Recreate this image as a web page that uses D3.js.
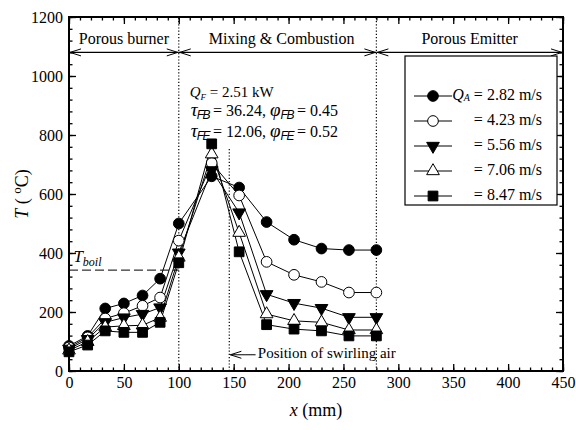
<!DOCTYPE html>
<html>
<head>
<meta charset="utf-8">
<script src="https://cdn.jsdelivr.net/npm/d3@7"></script>
<style>
  body { margin: 0; background: white; }
  svg { font-family: 'Liberation Serif', 'Times New Roman', serif; }
</style>
</head>
<body>
<div id="chart"></div>
<script>
// x positions of thermocouples (mm)
const xPos = [0, 17, 33, 50, 67, 83, 100, 130, 155, 180, 205, 230, 255, 280]
// temperatures for each air velocity
const t282 = [85, 119, 212, 229, 256, 313, 500, 660, 622, 505, 445, 415, 410, 410]
const t423 = [80, 114, 178, 196, 221, 249, 442, 705, 595, 370, 326, 302, 266, 266]
const t556 = [75, 108, 165, 181, 193, 215, 401, 680, 537, 260, 230, 213, 182, 182]
const t706 = [70, 99, 149, 153, 155, 181, 385, 735, 469, 193, 170, 165, 139, 139]
const t847 = [65, 88, 136, 131, 131, 165, 367, 770, 404, 157, 142, 136, 119, 119]
const seriesLabels = ['2.82', '4.23', '5.56', '7.06', '8.47']
const xTicks = [0, 50, 100, 150, 200, 250, 300, 350, 400, 450]
const yTicks = [0, 200, 400, 600, 800, 1000, 1200]
const zones = [['Porous burner', 0, 100], ['Mixing & Combustion', 100, 280], ['Porous Emitter', 280, 450]]

const width = 576, height = 430
const padL = 69, padR = 563, padT = 17, padB = 371

const svg = d3.select('#chart').append('svg')
	.attr('width', width)
	.attr('height', height)

const x = d3.scaleLinear().domain([0, 450]).range([padL, padR])
const y = d3.scaleLinear().domain([0, 1200]).range([padB, padT])

// axes, ticks pointing inward on all four sides
function styleAxis(g) {
	g.select('.domain').remove()
	g.selectAll('line').style('stroke', 'black').style('stroke-width', 1.3)
	g.selectAll('text').style('font-size', '16px').style('font-family', 'Liberation Serif').style('fill', 'black')
}
const fmt = d3.format('d')
svg.append('g').attr('transform', 'translate(0,' + padB + ')')
	.call(d3.axisBottom(x).tickValues(xTicks).tickSize(-7).tickPadding(6).tickFormat(fmt)).call(styleAxis)
svg.append('g').attr('transform', 'translate(0,' + padB + ')')
	.call(d3.axisBottom(x).tickValues(d3.range(0, 451, 10)).tickSize(-3.5).tickFormat('')).call(styleAxis)
svg.append('g').attr('transform', 'translate(0,' + padT + ')')
	.call(d3.axisTop(x).tickValues(xTicks).tickSize(-7).tickFormat('')).call(styleAxis)
svg.append('g').attr('transform', 'translate(0,' + padT + ')')
	.call(d3.axisTop(x).tickValues(d3.range(0, 451, 10)).tickSize(-3.5).tickFormat('')).call(styleAxis)
svg.append('g').attr('transform', 'translate(' + padL + ',0)')
	.call(d3.axisLeft(y).tickValues(yTicks).tickSize(-7).tickPadding(6).tickFormat(fmt)).call(styleAxis)
svg.append('g').attr('transform', 'translate(' + padL + ',0)')
	.call(d3.axisLeft(y).tickValues(d3.range(0, 1201, 40)).tickSize(-3.5).tickFormat('')).call(styleAxis)
svg.append('g').attr('transform', 'translate(' + padR + ',0)')
	.call(d3.axisRight(y).tickValues(yTicks).tickSize(-7).tickFormat('')).call(styleAxis)
svg.append('g').attr('transform', 'translate(' + padR + ',0)')
	.call(d3.axisRight(y).tickValues(d3.range(0, 1201, 40)).tickSize(-3.5).tickFormat('')).call(styleAxis)

svg.append('rect')
	.attr('x', padL).attr('y', padT)
	.attr('width', padR - padL).attr('height', padB - padT)
	.style('fill', 'none').style('stroke', 'black').style('stroke-width', 2)

// dotted zone borders
const dotted = [[100, 0, 1200], [280, 0, 1200], [146, 0, 758]]
svg.selectAll('.zone-line').data(dotted).enter().append('line')
	.attr('x1', d => x(d[0])).attr('x2', d => x(d[0]))
	.attr('y1', d => y(d[1])).attr('y2', d => y(d[2]))
	.style('stroke', 'black').style('stroke-width', 1.2).style('stroke-dasharray', '1.2,2')

// double arrows + zone names
function openHead(g, px, py, dir) {
	g.append('path')
		.attr('d', 'M' + (px - dir * 11) + ',' + (py - 3.5) + 'L' + px + ',' + py + 'L' + (px - dir * 11) + ',' + (py + 3.5))
		.style('fill', 'none').style('stroke', 'black').style('stroke-width', 1)
}
const ya = y(1080)
zones.forEach(z => {
	svg.append('line').attr('x1', x(z[1])).attr('x2', x(z[2])).attr('y1', ya).attr('y2', ya)
		.style('stroke', 'black').style('stroke-width', 1.2)
	openHead(svg, x(z[1]) + 1, ya, -1)
	openHead(svg, x(z[2]) - 1, ya, 1)
	svg.append('text').attr('x', x((z[1] + z[2]) / 2) + (z[1] == 100 ? 4 : 0)).attr('y', y(1120))
		.attr('text-anchor', 'middle').attr('dominant-baseline', 'middle')
		.style('font-size', '16px').text(z[0])
})

// T boil
svg.append('line').attr('x1', x(0)).attr('x2', x(100)).attr('y1', y(342)).attr('y2', y(342))
	.style('stroke', 'black').style('stroke-width', 1).style('stroke-dasharray', '9,4')
const tb = svg.append('text').attr('x', x(4)).attr('y', y(368)).style('font-size', '17px').style('font-style', 'italic')
tb.append('tspan').text('T')
tb.append('tspan').attr('dy', 4).style('font-size', '12px').text('boil')

// swirling air marker
openHead(svg, x(147), y(55), -1)
svg.append('line').attr('x1', x(147)).attr('x2', x(170)).attr('y1', y(55)).attr('y2', y(55))
	.style('stroke', 'black').style('stroke-width', 1)
svg.append('text').attr('x', x(172)).attr('y', y(55)).attr('dominant-baseline', 'middle')
	.style('font-size', '15px').text('Position of swirling air')

// operating condition text
const qf = svg.append('text').attr('x', x(110)).attr('y', 97).style('font-size', '15px')
qf.append('tspan').style('font-style', 'italic').text('Q')
qf.append('tspan').attr('dy', 3).style('font-size', '9px').style('font-style', 'italic').text('F')
qf.append('tspan').attr('dy', -3).text(' =  2.51 kW')
function greekLine(yy, sub, tau, phi) {
	const t = svg.append('text').attr('x', x(111)).attr('y', yy).style('font-size', '16px')
	t.append('tspan').style('font-style', 'italic').style('font-size', '19px').text('τ')
	t.append('tspan').attr('dy', 3).attr('dx', -1).style('font-family', 'Liberation Sans').style('font-style', 'italic').style('font-size', '12px').style('letter-spacing', '-1.5px').text(sub)
	t.append('tspan').attr('dy', -3).text(' = ' + tau + ', ')
	t.append('tspan').style('font-style', 'italic').style('font-size', '19px').text('φ')
	t.append('tspan').attr('dy', 3).style('font-family', 'Liberation Sans').style('font-style', 'italic').style('font-size', '12px').style('letter-spacing', '-1.5px').text(sub)
	t.append('tspan').attr('dy', -3).text(' = ' + phi)
}
greekLine(116, 'FB', '36.24', '0.45')
greekLine(137, 'FE', '12.06', '0.52')

// series
const series = [
	{ vals: t282, shape: d3.symbolCircle, fill: 'black', size: 90 },
	{ vals: t423, shape: d3.symbolCircle, fill: 'white', size: 90 },
	{ vals: t556, shape: d3.symbolTriangle, fill: 'black', size: 70, flip: true },
	{ vals: t706, shape: d3.symbolTriangle, fill: 'white', size: 70 },
	{ vals: t847, shape: d3.symbolSquare, fill: 'black', size: 95 }
]
const line = d3.line().x(d => x(d[0])).y(d => y(d[1]))
series.forEach(s => {
	const pts = xPos.map((v, i) => [v, s.vals[i]])
	svg.append('path').datum(pts).attr('d', line)
		.style('fill', 'none').style('stroke', 'black').style('stroke-width', 1)
})
series.forEach(s => {
	const pts = xPos.map((v, i) => [v, s.vals[i]])
	svg.selectAll(null).data(pts).enter().append('path')
		.attr('d', d3.symbol().type(s.shape).size(s.size))
		.attr('transform', d => 'translate(' + x(d[0]) + ',' + y(d[1]) + ')' + (s.flip ? ' rotate(180)' : ''))
		.style('fill', s.fill).style('stroke', 'black').style('stroke-width', 1)
})

// legend
const lg = svg.append('g')
lg.append('rect').attr('x', 405).attr('y', 56).attr('width', 152).attr('height', 149)
	.style('fill', 'white').style('stroke', 'black').style('stroke-width', 1.2)
series.forEach((s, i) => {
	const ly = 96 + i * 25
	lg.append('line').attr('x1', 414).attr('x2', 452).attr('y1', ly).attr('y2', ly)
		.style('stroke', 'black').style('stroke-width', 1)
	lg.append('path').attr('d', d3.symbol().type(s.shape).size(s.size))
		.attr('transform', 'translate(433,' + ly + ')' + (s.flip ? ' rotate(180)' : ''))
		.style('fill', s.fill).style('stroke', 'black')
	const t = lg.append('text').attr('x', 542).attr('y', ly).attr('text-anchor', 'end')
		.attr('dominant-baseline', 'middle').style('font-size', '16px')
	if (i == 0) {
		t.append('tspan').style('font-style', 'italic').text('Q')
		t.append('tspan').attr('dy', 3).style('font-size', '10px').style('font-style', 'italic').text('A')
		t.append('tspan').attr('dy', -3).text(' = ' + seriesLabels[i] + ' m/s')
	} else {
		t.text('=  ' + seriesLabels[i] + ' m/s')
	}
})

// axis titles
const xl = svg.append('text').attr('x', (padL + padR) / 2).attr('y', 416)
	.attr('text-anchor', 'middle').style('font-size', '18px')
xl.append('tspan').style('font-style', 'italic').text('x')
xl.append('tspan').text(' (mm)')
const yl = svg.append('text').attr('transform', 'translate(28,' + ((padT + padB) / 2) + ') rotate(-90)')
	.attr('text-anchor', 'middle').style('font-size', '18px')
yl.append('tspan').style('font-style', 'italic').text('T')
yl.append('tspan').text(' ( ')
yl.append('tspan').attr('dy', -7).style('font-size', '13px').text('o')
yl.append('tspan').attr('dy', 7).text('C)')
</script>
</body>
</html>
